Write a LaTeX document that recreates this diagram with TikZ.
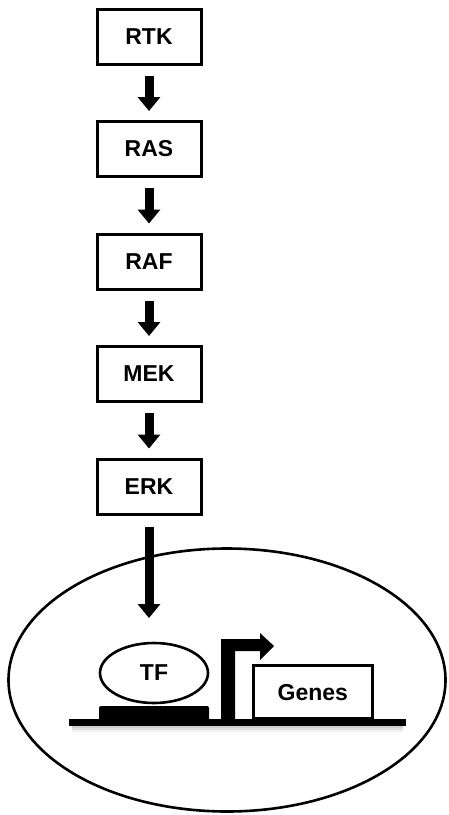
\documentclass[tikz,border=0pt]{standalone}
\usepackage{fontspec}
\setmainfont{Liberation Sans}
\usetikzlibrary{arrows.meta,shapes.geometric}
\begin{document}
\begin{tikzpicture}[x=1pt,y=-1pt,
  kbox/.style={draw,line width=3pt,minimum width=104pt,minimum height=55pt,inner sep=0pt,font=\fontsize{23}{26}\selectfont\bfseries},
  arr/.style={line width=9pt,-{Triangle[width=22pt,length=14pt]}},
  lbl/.style={font=\fontsize{23}{26}\selectfont\bfseries}]
\useasboundingbox (0,0) rectangle (448,815);
\node[kbox] (rtk) at (149,36.5) {RTK};
\node[kbox] (ras) at (149,149) {RAS};
\node[kbox] (raf) at (149,261.5) {RAF};
\node[kbox] (mek) at (149,374) {MEK};
\node[kbox] (erk) at (149,486.5) {ERK};
\foreach \a/\b in {rtk/ras,ras/raf,raf/mek,mek/erk}
  \draw[arr] ([yshift=-10pt]\a.south) -- ([yshift=9pt]\b.north);
% cell
\node[draw,ellipse,line width=2.6pt,minimum width=437pt,minimum height=263pt] (cell) at (227,680) {};
% DNA shadow
\foreach \d/\o in {3/0.25,5/0.18,7/0.1}
  \draw[line width=4pt,gray,opacity=\o] (72,722.5+\d) -- (403,722.5+\d);
% DNA
\draw[line width=7pt] (69,722.5) coordinate (dnal) -- (406,722.5) coordinate (dnar);
% binding pad
\fill[rounded corners=2pt] (99,706) rectangle (209,722);
% TF
\node[draw,ellipse,line width=2.6pt,minimum width=108pt,minimum height=60pt,lbl,fill=white] (tf) at (154,673) {TF};
% long arrow
\coordinate (erkb) at ([yshift=-11pt]erk.south);
\draw[arr] (erkb) -- (erkb |- 0,618);
% promoter arrow
\fill (221,722) -- (221,639) -- (260,639) -- (260,633) -- (274,646) -- (260,660) -- (260,651) -- (235,651) -- (235,722) -- cycle;
% genes
\node[draw,line width=2.6pt,minimum width=119pt,minimum height=53pt,inner sep=0pt,lbl,anchor=south west] (genes) at (252,720) {Genes};
\end{tikzpicture}
\end{document}
